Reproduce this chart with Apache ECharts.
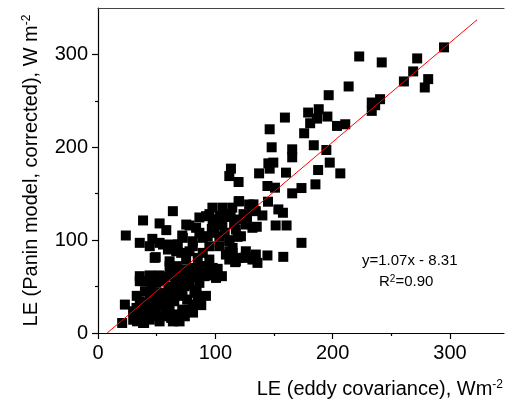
<!DOCTYPE html>
<html><head><meta charset="utf-8">
<script src="https://cdn.jsdelivr.net/npm/echarts@6/dist/echarts.min.js"></script>
<style>html,body{margin:0;padding:0;background:#fff}#c{width:506px;height:401px}</style>
</head><body><div id="c"></div>
<script>
// LE (eddy covariance) vs LE (Panin model, corrected)
const points = [
 [294.9,307.6],[222.6,297.8],[241.8,291.4],[272,295.7],[268.6,281.7],[260.7,270.9],[281.4,273.4],[278.5,264.4],
 [213.6,265.5],[196.6,256.1],[233.3,248.2],[240.4,251.8],[233.3,239.2],[236.2,245.3],[179.1,237.4],[188.1,241],
 [186.7,230.9],[195.5,233.1],[180.8,225.9],[203.7,223],[210.7,224.8],[159.3,232],[146.3,219.4],[175.7,215.1],
 [183.9,202.2],[194.6,197.1],[148,200],[165.5,197.8],[165.5,189.2],[197.5,183.5],[145.2,182.7],[149.4,183.5],
 [146.3,177],[113.3,177],[111.9,169],[119.8,162.6],[137.3,171.9],[160.2,172.7],[187.6,175.5],[206.5,171.9],
 [185.3,160.1],[165.5,150.4],[173.4,156.1],[144.4,158.3],[150.8,156.5],[144.9,141.4],[119.8,141.7],[132.5,138.5],
 [153.7,133.1],[157.6,129.5],[140.1,126.6],[151.4,115.8],[160.7,115.8],[135.3,114.4],[173.4,97.1],[157.9,82],
 [144.4,83.5],[135.9,75.5],[134.5,84.5],[126,82.7],[116.9,76.3],[109,84.5],[119.8,80.9],[111.9,100],
 [119,103.6],[114.7,91.7],[105.6,61.2],[102,69.1],[131.6,79.1],
 [63.8,131.2],[86.4,124.4],[97.5,135],[106,135],[114.4,135],[120.3,142],[128.8,138.4],[134.5,131.2],
 [92.1,125.8],[75.2,116.8],[83.6,113.3],[72.3,102.5],[80.8,98.8],[89.3,102.5],[94.9,93.4],[103.4,104.2],
 [111.9,98.8],[117.5,111.4],[126,116.8],[131.6,113.3],[126,88],[66.7,88],[78,88],[89.3,86.3],
 [111.9,88],[63.8,95.3],[120.3,122.2],[121.8,104.2],[131.6,133],[106,118],[100,122],[113,125],
 [124,128],[97,112],[108,108],[116,117],[127,124],[110,128],[104,126],[95,128],[101,116],
 [23.7,105],[38.4,121.2],[52.5,118],[58.2,110.8],[35.6,97.1],[46.3,101.4],[44.1,93.5],[55.4,95.3],
 [49.2,81.7],[71.8,105],[78,115.8],[86.4,107.9],[97.7,122.3],[99.2,107.9],[93.5,104.3],[80.8,93.5],
 [70.9,86.3],[75.1,79.1],[85,80.9],[92.1,71.9],[86.4,64.7],[90.7,61.2],[86.4,54],[82.2,43.2],
 [85,34.2],[78,25.2],[71.8,25.2],[65,34.2],[67.8,43.2],[73.7,50.4],[69.5,57.6],[61,71.9],
 [60.5,61.2],[62.4,16.2],[55.4,18],[49.7,18],[46.9,25.2],[41.2,21.6],[39.3,10.8],[33.3,12.6],
 [29.9,23.4],[22.9,30.6],[20.6,10.8],[35.6,34.2],[35.6,61.2],[35.6,55.8],[41.2,55.8],[45.8,46.8],
 [49.7,54],[52.5,43.2],[55.4,32.4],[46.9,39.6],[42.7,32.4],[58.2,43.2],[63.8,46.8],[97.7,70.1],
 [100.6,68.3],[94.9,79.1],[103.4,93.5],[114.7,86.3],[111.9,79.1],[124.3,80.9],[75.1,68.3],[69.5,64.7],
 [75.1,61.2],[63.8,39.6],[61,28.8],[80.8,30.6],[52.5,28.8],[44.1,14.4],[48.3,80.9],[61,77.2],
 [68,68.3],[44.1,55.7],[32.8,27],[30,14.3],[38.4,10.8],[44.1,37.8],[58.2,30.5],[63.8,12.5],
 [52.5,12.5],[100.6,59.3],[86.4,37.8],[80.8,27],[69.5,12.5],[117.5,77.2],
 [52.5,97.1],[59.6,89.9],[68,95.3],
 [66,55],[71,48],[78,52],[82,60],[67,72],[72,40],[76,36],[60,50],[56,38],[50,30],[40,28],[36,18],
 [48,24],[58,22],[66,20],[74,18],[81,22],[88,30],[92,40],[84,47],[80,70],[88,72],[95,62],[62,64],
 [56,56],[52,62],[44,62],[40,45],[33,40],[38,30]
];
const fitLine = [[7.8, 0], [323, 337.3]];
const xTicks = [0, 100, 200, 300];
const xMinorTicks = [50, 150, 250];
const yTicks = [0, 100, 200, 300];
const yMinorTicks = [50, 150, 250];
const xMax = 346, yMax = 350;
const xTitle = 'LE (eddy covariance), Wm{sup|-2}';
const yTitle = 'LE (Panin model, corrected), W m{sup|-2}';
const eqText = 'y=1.07x - 8.31';
const r2Text = 'R{sup|2}=0.90';

const FF = '"Liberation Sans", Arial, sans-serif';
const chart = echarts.init(document.getElementById('c'), null, {renderer: 'canvas'});
const supRich = {sup: {fontSize: 12, fontFamily: FF, color: '#000', verticalAlign: 'top', lineHeight: 12}};
chart.setOption({
  animation: false,
  backgroundColor: '#fff',
  grid: {left: 98, top: 8, right: 0, bottom: 68},
  xAxis: [
    {type: 'value', min: 0, max: xMax, position: 'bottom',
     axisLine: {show: true, onZero: false, lineStyle: {color: '#000', width: 1.2}},
     axisTick: {show: true, length: 6, customValues: xTicks, lineStyle: {color: '#000', width: 1.2}},
     axisLabel: {customValues: xTicks, margin: 10, fontSize: 20, fontFamily: FF, color: '#000'},
     splitLine: {show: false},
     name: xTitle, nameLocation: 'end', nameGap: -1,
     nameTextStyle: {fontSize: 20, fontFamily: FF, color: '#000', align: 'right', verticalAlign: 'top',
       padding: [46, 0, 0, 0], rich: supRich}},
    {type: 'value', min: 0, max: xMax, position: 'bottom',
     axisLine: {show: false}, axisLabel: {show: false}, splitLine: {show: false},
     axisTick: {show: true, length: 3, customValues: xMinorTicks, lineStyle: {color: '#000', width: 1.2}}},
    {type: 'value', min: 0, max: xMax, position: 'top',
     axisLine: {show: true, onZero: false, lineStyle: {color: '#444', width: 1.2}},
     axisTick: {show: false}, axisLabel: {show: false}, splitLine: {show: false}}
  ],
  yAxis: [
    {type: 'value', min: 0, max: yMax, position: 'left',
     axisLine: {show: true, onZero: false, lineStyle: {color: '#000', width: 1.2}},
     axisTick: {show: true, length: 6, customValues: yTicks, lineStyle: {color: '#000', width: 1.2}},
     axisLabel: {customValues: yTicks, margin: 10, fontSize: 20, fontFamily: FF, color: '#000'},
     splitLine: {show: false},
     name: yTitle, nameLocation: 'middle', nameGap: 57,
     nameTextStyle: {fontSize: 20, fontFamily: FF, color: '#000', rich: supRich}},
    {type: 'value', min: 0, max: yMax, position: 'left',
     axisLine: {show: false}, axisLabel: {show: false}, splitLine: {show: false},
     axisTick: {show: true, length: 3, customValues: yMinorTicks, lineStyle: {color: '#000', width: 1.2}}}
  ],
  series: [
    {type: 'scatter', xAxisIndex: 0, yAxisIndex: 0, data: points, symbol: 'rect', symbolSize: 10,
     itemStyle: {color: '#000', opacity: 1}, z: 2},
    {type: 'line', xAxisIndex: 0, yAxisIndex: 0, data: fitLine, showSymbol: false, symbol: 'none',
     lineStyle: {color: '#ff0000', width: 1}, z: 3}
  ],
  graphic: [
    {type: 'text', left: 362, top: 253, style: {text: eqText, font: '15px ' + FF, fill: '#000'}},
    {type: 'text', left: 379, top: 274, style: {text: r2Text, font: '15px ' + FF, fill: '#000',
      rich: {sup: {fontSize: 10, fontFamily: FF, fill: '#000', verticalAlign: 'top'}}}}
  ]
});
</script>
</body></html>
